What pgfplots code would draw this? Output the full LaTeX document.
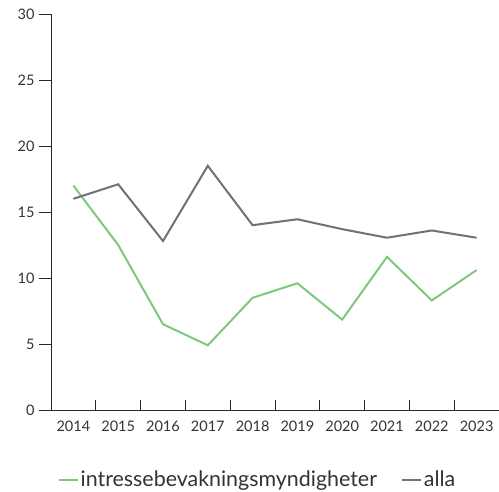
\documentclass[border=0pt]{standalone}
\usepackage{fontspec}
\setmainfont{Lato}
\usepackage{pgfplots}
\pgfplotsset{compat=1.18}
\definecolor{lgreen}{HTML}{7DC87A}
\definecolor{lgray}{HTML}{707078}
\begin{document}
\begin{tikzpicture}[x=1pt,y=1pt]
\begin{axis}[
  scale only axis,
  width=448pt, height=396pt,
  xmin=-0.5, xmax=9.5,
  ymin=0, ymax=30,
  axis lines*=left,
  axis line style={black!85, line width=0.9pt},
  xtick={0,...,9},
  xticklabels={2014,2015,2016,2017,2018,2019,2020,2021,2022,2023},
  major x tick style={draw=none},
  minor xtick={0.5,1.5,...,9.5},
  minor x tick style={black!85, line width=0.9pt},
  minor tick length=10pt,
  ytick={0,5,...,30},
  major tick length=12pt,
  ytick style={black!85, line width=0.9pt},
  ytick align=outside,
  xtick align=inside,
  tick label style={font=\fontsize{14.5}{16}\selectfont, text=black!80},
  /pgf/number format/assume math mode=true,
  xticklabel style={yshift=-7pt},
  yticklabel style={xshift=-1pt},
  legend style={at={(rel axis cs:0.461,-0.176)}, anchor=center, draw=none, legend columns=2,
    font=\fontsize{21.4}{23}\selectfont, text=black!80, inner sep=1pt,
    /tikz/every even column/.append style={column sep=22pt}},
  legend image code/.code={\draw[#1] (-2pt,0pt) -- (17pt,0pt);},
]
\addplot[lgreen, line width=2pt] coordinates {
  (0,17.0) (1,12.5) (2,6.5) (3,4.9) (4,8.5) (5,9.6) (6,6.85) (7,11.6) (8,8.3) (9,10.6)
};
\addlegendentry{intressebevakningsmyndigheter}
\addplot[lgray, line width=2pt] coordinates {
  (0,16.0) (1,17.1) (2,12.8) (3,18.5) (4,14.0) (5,14.45) (6,13.7) (7,13.05) (8,13.6) (9,13.05)
};
\addlegendentry{alla}
\end{axis}
\pgfresetboundingbox
\path[use as bounding box] (-51pt,-82pt) rectangle (448pt,410pt);
\end{tikzpicture}
\end{document}
